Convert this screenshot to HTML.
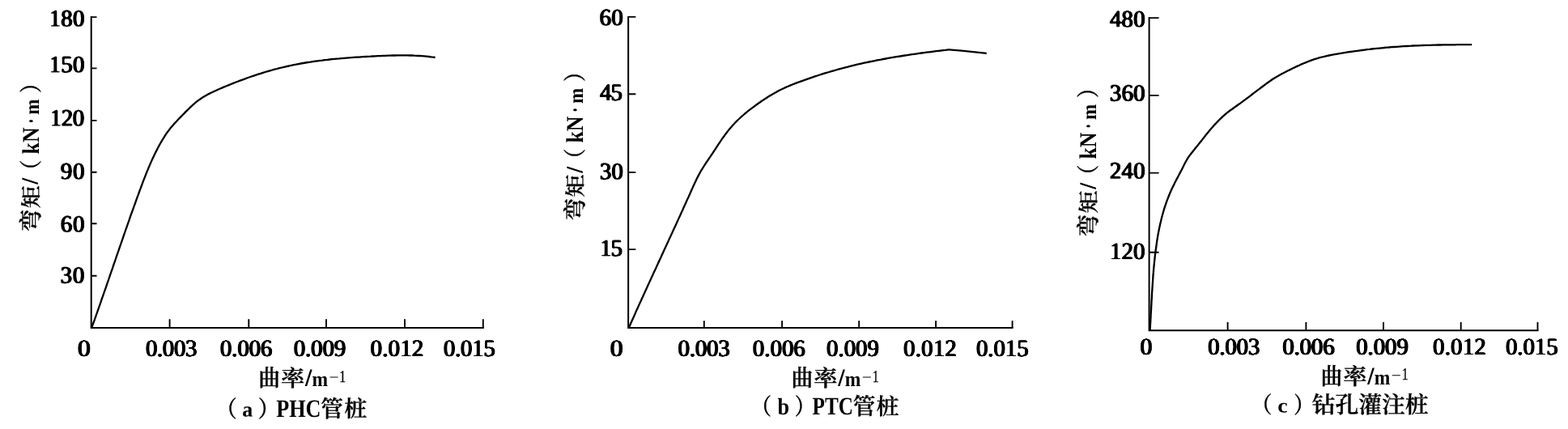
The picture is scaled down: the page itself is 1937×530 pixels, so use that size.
<!DOCTYPE html>
<html lang="zh"><head><meta charset="utf-8"><title>弯矩-曲率曲线</title>
<style>
html,body{margin:0;padding:0;background:#fff}
svg{display:block}
text{font-family:"Liberation Serif","Noto Serif CJK SC",serif;fill:#000;text-rendering:geometricPrecision}
.n{font-weight:normal;filter:url(#hd)}
.b{font-weight:bold}
.c{font-weight:600;stroke:#000;stroke-width:0.35}
.s{font-weight:normal;stroke:#000;stroke-width:0.3}
.m{font-weight:normal}
.sl{font-weight:normal;stroke:#000;stroke-width:1.2}
.ax{fill:none;stroke:#000;stroke-width:2.0;stroke-linejoin:miter}
.tk{fill:none;stroke:#000;stroke-width:1.9}
.cv{fill:none;stroke:#000;stroke-width:2.3;stroke-linejoin:round;stroke-linecap:butt}
</style></head><body>
<svg width="1937" height="530" viewBox="0 0 1937 530">
<defs><filter id="hd" x="-5%" y="-10%" width="110%" height="120%" color-interpolation-filters="sRGB"><feConvolveMatrix order="3 3" kernelMatrix="0 0.15 0 0.65 1 0.65 0 0.15 0" divisor="1" edgeMode="none" preserveAlpha="false"/><feComponentTransfer><feFuncA type="linear" slope="1.8" intercept="-0.4"/></feComponentTransfer></filter></defs>
<rect width="1937" height="530" fill="#fff"/>
<g id="chart-a">
<path class="ax" d="M112.7 20.1V405.0H597.8"/>
<path class="tk" d="M112.7 21.1h6.8M112.7 84.4h6.8M112.7 148.9h6.8M112.7 212.8h6.8M112.7 276.3h6.8M112.7 340.7h6.8M209.6 405.0v-10.8M307.3 405.0v-10.8M403 405.0v-10.8M500 405.0v-10.8M596.8 405.0v-10.8"/>
<path class="cv" d="M113.2 405.0L114.2 402.2L115.2 399.3L116.3 396.5L117.3 393.7L118.3 390.9L119.3 388.0L120.3 385.2L121.3 382.4L122.3 379.5L123.3 376.7L124.3 373.9L125.2 371.0L126.2 368.2L127.2 365.4L128.2 362.5L129.2 359.7L130.2 356.9L131.2 354.0L132.1 351.2L133.1 348.4L134.1 345.5L135.1 342.7L136.0 339.9L137.0 337.0L138.0 334.2L139.0 331.4L139.9 328.5L140.9 325.7L141.9 322.9L142.9 320.0L143.8 317.2L144.8 314.4L145.8 311.5L146.8 308.7L147.7 305.9L148.7 303.0L149.7 300.2L150.7 297.4L151.7 294.5L152.6 291.7L153.6 288.9L154.6 286.0L155.6 283.2L156.6 280.4L157.6 277.5L158.6 274.7L159.6 271.9L160.5 269.0L161.5 266.2L162.5 263.4L163.5 260.6L164.6 257.7L165.6 254.9L166.6 252.1L167.6 249.3L168.6 246.4L169.6 243.6L170.7 240.8L171.7 238.0L172.7 235.1L173.8 232.3L174.8 229.5L175.9 226.7L176.9 223.9L178.0 221.1L179.1 218.3L180.2 215.5L181.3 212.7L182.5 209.9L183.6 207.1L184.8 204.4L186.0 201.6L187.2 198.9L188.4 196.2L189.7 193.5L191.0 190.8L192.3 188.1L193.7 185.4L195.0 182.7L196.4 180.1L197.9 177.5L199.4 174.9L200.9 172.3L202.5 169.8L204.1 167.2L205.7 164.8L207.5 162.4L209.3 160.0L211.1 157.6L213.1 155.4L215.0 153.1L217.1 150.9L219.1 148.7L221.2 146.5L223.3 144.4L225.4 142.2L227.5 140.1L229.6 137.9L231.8 135.8L233.9 133.7L236.1 131.6L238.3 129.6L240.5 127.6L242.8 125.7L245.2 123.9L247.6 122.2L250.1 120.5L252.6 119.0L255.2 117.5L257.8 116.1L260.5 114.8L263.2 113.5L265.9 112.2L268.6 111.0L271.4 109.8L274.1 108.6L276.9 107.4L279.7 106.3L282.5 105.1L285.3 104.0L288.0 102.9L290.8 101.8L293.6 100.7L296.4 99.6L299.3 98.6L302.1 97.6L304.9 96.5L307.7 95.5L310.6 94.5L313.4 93.6L316.3 92.6L319.1 91.7L322.0 90.8L324.8 89.9L327.7 89.0L330.6 88.2L333.5 87.3L336.4 86.5L339.3 85.7L342.2 85.0L345.1 84.2L348.0 83.5L350.9 82.8L353.8 82.1L356.8 81.5L359.7 80.8L362.6 80.2L365.6 79.7L368.5 79.1L371.5 78.5L374.4 78.0L377.4 77.5L380.3 77.0L383.3 76.6L386.2 76.1L389.2 75.7L392.2 75.3L395.1 74.9L398.1 74.6L401.1 74.2L404.1 73.9L407.0 73.5L410.0 73.2L413.0 72.9L416.0 72.6L419.0 72.4L422.0 72.1L425.0 71.8L427.9 71.6L430.9 71.4L433.9 71.2L436.9 70.9L439.9 70.7L442.9 70.6L445.9 70.4L448.9 70.2L451.9 70.0L454.9 69.8L457.9 69.7L460.9 69.5L463.9 69.4L466.9 69.2L469.9 69.1L473.0 68.9L476.0 68.8L479.0 68.7L482.0 68.6L485.0 68.5L488.0 68.5L491.0 68.4L494.0 68.4L497.0 68.4L500.0 68.4L503.0 68.4L506.0 68.5L508.9 68.5L511.9 68.7L514.9 68.8L517.9 69.0L520.9 69.2L523.9 69.4L526.9 69.7L529.9 70.0L532.8 70.4L535.8 70.7L537.6 71.0"/>
<text class="n" font-size="29.5" letter-spacing="0.15" transform="translate(60.69 32.45) rotate(0.03) scale(0.9800 1)">180</text>
<text class="n" font-size="29.5" letter-spacing="0.15" transform="translate(60.69 89.35) rotate(0.03) scale(0.9800 1)">150</text>
<text class="n" font-size="29.5" letter-spacing="-0.41" transform="translate(61.69 155.45) rotate(0.03) scale(0.9800 1)">120</text>
<text class="n" font-size="29.5" letter-spacing="0.71" transform="translate(74.75 221.30) rotate(0.03) scale(0.9800 1)">90</text>
<text class="n" font-size="29.5" letter-spacing="0.71" transform="translate(74.75 286.45) rotate(0.03) scale(0.9800 1)">60</text>
<text class="n" font-size="29.5" letter-spacing="0.87" transform="translate(74.59 349.60) rotate(0.03) scale(0.9800 1)">30</text>
<text class="n" font-size="29.5" transform="translate(95.85 440.00) rotate(0.03) scale(1.0847 1)">0</text>
<text class="n" font-size="29.5" letter-spacing="-0.42" transform="translate(179.95 440.00) rotate(0.03) scale(0.9800 1)">0.003</text>
<text class="n" font-size="29.5" letter-spacing="-0.15" transform="translate(271.85 440.00) rotate(0.03) scale(0.9800 1)">0.006</text>
<text class="n" font-size="29.5" letter-spacing="-0.16" transform="translate(362.75 440.00) rotate(0.03) scale(0.9800 1)">0.009</text>
<text class="n" font-size="29.5" letter-spacing="0.18" transform="translate(457.55 440.00) rotate(0.03) scale(0.9800 1)">0.012</text>
<text class="n" font-size="29.5" letter-spacing="-0.29" transform="translate(547.85 440.00) rotate(0.03) scale(0.9800 1)">0.015</text>
<text transform="rotate(0.03 319.29 477.00)"><tspan class="c" x="319.29" y="477.00" font-size="28.80" textLength="26.76" lengthAdjust="spacingAndGlyphs">曲</tspan><tspan class="c" x="347.09" y="477.16" font-size="28.12" textLength="29.21" lengthAdjust="spacingAndGlyphs">率</tspan><tspan class="sl" x="377.40" y="475.95" font-size="28.65" textLength="7.41" lengthAdjust="spacingAndGlyphs">/</tspan><tspan class="b" x="385.43" y="476.60" font-size="26.01" textLength="19.58" lengthAdjust="spacingAndGlyphs">m</tspan><tspan class="m" x="406.49" y="472.90" font-size="21.00" textLength="12.15" lengthAdjust="spacingAndGlyphs">−</tspan><tspan class="s" x="419.37" y="471.50" font-size="20.84" textLength="7.87" lengthAdjust="spacingAndGlyphs">1</tspan></text>
<text transform="translate(0.00 284.50) rotate(-89.97)"><tspan class="c" x="-1.55" y="48.20" font-size="28.85" textLength="27.33" lengthAdjust="spacingAndGlyphs">弯</tspan><tspan class="c" x="27.26" y="47.51" font-size="25.50" textLength="28.08" lengthAdjust="spacingAndGlyphs">矩</tspan><tspan class="sl" x="57.40" y="46.47" font-size="27.35" textLength="7.01" lengthAdjust="spacingAndGlyphs">/</tspan><tspan class="c" x="61.60" y="47.91" font-size="27.59" textLength="25.28" lengthAdjust="spacingAndGlyphs">（</tspan><tspan class="b" x="94.10" y="47.50" font-size="29.72" textLength="32.99" lengthAdjust="spacingAndGlyphs">kN</tspan><tspan class="b" x="131.70" y="47.50" font-size="29.00" textLength="6.40" lengthAdjust="spacingAndGlyphs">·</tspan><tspan class="b" x="142.74" y="47.50" font-size="25.19" textLength="19.27" lengthAdjust="spacingAndGlyphs">m</tspan><tspan class="c" x="169.65" y="47.91" font-size="27.59" textLength="24.64" lengthAdjust="spacingAndGlyphs">）</tspan></text>
<text transform="rotate(0.03 266.79 514.89)"><tspan class="c" x="266.79" y="514.89" font-size="27.80" textLength="25.92" lengthAdjust="spacingAndGlyphs">（</tspan><tspan class="b" x="299.19" y="514.50" font-size="26.22" textLength="13.01" lengthAdjust="spacingAndGlyphs">a</tspan><tspan class="c" x="318.87" y="514.89" font-size="27.80" textLength="26.24" lengthAdjust="spacingAndGlyphs">）</tspan><tspan class="b" x="341.29" y="514.70" font-size="31.11" textLength="55.23" lengthAdjust="spacingAndGlyphs">PHC</tspan><tspan class="c" x="396.34" y="515.02" font-size="28.54" textLength="27.63" lengthAdjust="spacingAndGlyphs">管</tspan><tspan class="c" x="425.32" y="514.79" font-size="27.80" textLength="28.01" lengthAdjust="spacingAndGlyphs">桩</tspan></text>
</g>
<g id="chart-b">
<path class="ax" d="M776.15 19.9V405.0H1251.6"/>
<path class="tk" d="M776.15 20.9h9.2M776.15 116.3h9.2M776.15 212.85h9.2M776.15 308.1h9.2M869.8 405.0v-8.8M966.1 405.0v-8.8M1061.2 405.0v-8.8M1156.1 405.0v-8.8M1250.6 405.0v-8.8"/>
<path class="cv" d="M776.8 405.0L778.0 402.3L779.2 399.5L780.4 396.8L781.7 394.1L782.9 391.3L784.1 388.6L785.3 385.9L786.5 383.1L787.8 380.4L789.0 377.6L790.2 374.9L791.5 372.2L792.7 369.4L794.0 366.7L795.2 364.0L796.5 361.2L797.7 358.5L799.0 355.8L800.2 353.0L801.5 350.3L802.7 347.6L804.0 344.8L805.2 342.1L806.5 339.4L807.7 336.6L809.0 333.9L810.3 331.2L811.5 328.4L812.8 325.7L814.0 323.0L815.3 320.2L816.6 317.5L817.8 314.8L819.1 312.0L820.3 309.3L821.6 306.6L822.9 303.8L824.1 301.1L825.4 298.4L826.6 295.6L827.9 292.9L829.1 290.2L830.4 287.5L831.6 284.7L832.9 282.0L834.2 279.3L835.4 276.6L836.7 273.8L837.9 271.1L839.1 268.4L840.4 265.7L841.6 262.9L842.9 260.2L844.1 257.5L845.3 254.8L846.6 252.1L847.8 249.3L849.0 246.6L850.3 243.9L851.5 241.2L852.7 238.5L853.9 235.8L855.1 233.1L856.3 230.4L857.6 227.6L858.8 225.0L860.1 222.3L861.4 219.6L862.8 216.9L864.2 214.3L865.6 211.7L867.2 209.1L868.8 206.5L870.4 204.0L872.1 201.4L873.8 198.9L875.5 196.4L877.2 193.9L878.9 191.4L880.6 188.9L882.2 186.3L883.9 183.8L885.5 181.3L887.1 178.8L888.8 176.3L890.5 173.9L892.1 171.4L893.9 169.0L895.6 166.6L897.4 164.2L899.2 161.9L901.1 159.5L903.1 157.3L905.0 155.0L907.1 152.8L909.1 150.6L911.2 148.5L913.4 146.5L915.6 144.4L917.8 142.5L920.1 140.5L922.4 138.6L924.7 136.7L927.1 134.9L929.5 133.1L931.9 131.3L934.3 129.5L936.8 127.8L939.3 126.0L941.8 124.3L944.3 122.6L946.9 121.0L949.4 119.3L952.0 117.7L954.6 116.2L957.2 114.7L959.9 113.2L962.5 111.8L965.2 110.5L967.9 109.2L970.6 107.9L973.3 106.8L976.0 105.6L978.7 104.5L981.5 103.4L984.2 102.4L987.0 101.3L989.8 100.3L992.6 99.3L995.4 98.3L998.2 97.3L1001.1 96.3L1003.9 95.4L1006.7 94.4L1009.6 93.5L1012.5 92.5L1015.3 91.6L1018.2 90.7L1021.1 89.8L1024.0 89.0L1026.9 88.1L1029.8 87.3L1032.7 86.5L1035.6 85.6L1038.5 84.8L1041.4 84.1L1044.3 83.3L1047.2 82.6L1050.1 81.8L1053.0 81.1L1056.0 80.4L1058.9 79.7L1061.8 79.0L1064.7 78.4L1067.7 77.7L1070.6 77.1L1073.5 76.5L1076.5 75.9L1079.4 75.3L1082.3 74.7L1085.3 74.1L1088.2 73.6L1091.2 73.0L1094.1 72.5L1097.1 71.9L1100.0 71.4L1103.0 70.9L1105.9 70.4L1108.9 69.9L1111.8 69.5L1114.8 69.0L1117.8 68.5L1120.7 68.1L1123.7 67.6L1126.7 67.2L1129.6 66.8L1132.6 66.4L1135.6 65.9L1138.5 65.5L1141.5 65.1L1144.5 64.7L1147.5 64.3L1150.4 64.0L1153.4 63.6L1156.4 63.2L1159.4 62.8L1162.3 62.5L1165.3 62.1L1168.3 61.8L1171.3 61.4L1172.3 61.3L1187.8 62.6L1218.8 65.9"/>
<text class="n" font-size="29.5" letter-spacing="0.40" transform="translate(740.55 31.30) rotate(0.03) scale(0.9800 1)">60</text>
<text class="n" font-size="29.5" letter-spacing="-0.97" transform="translate(741.00 123.85) rotate(0.03) scale(0.9800 1)">45</text>
<text class="n" font-size="29.5" letter-spacing="0.05" transform="translate(740.89 221.45) rotate(0.03) scale(0.9800 1)">30</text>
<text class="n" font-size="29.5" letter-spacing="-1.07" transform="translate(741.09 316.30) rotate(0.03) scale(0.9800 1)">15</text>
<text class="n" font-size="29.5" transform="translate(753.66 440.00) rotate(0.03) scale(1.0770 1)">0</text>
<text class="n" font-size="29.5" letter-spacing="-0.19" transform="translate(837.55 440.00) rotate(0.03) scale(0.9800 1)">0.003</text>
<text class="n" font-size="29.5" letter-spacing="0.00" transform="translate(929.75 440.00) rotate(0.03) scale(0.9800 1)">0.006</text>
<text class="n" font-size="29.5" letter-spacing="-0.01" transform="translate(1020.95 440.00) rotate(0.03) scale(0.9800 1)">0.009</text>
<text class="n" font-size="29.5" letter-spacing="0.18" transform="translate(1116.05 440.00) rotate(0.03) scale(0.9800 1)">0.012</text>
<text class="n" font-size="29.5" letter-spacing="-0.09" transform="translate(1205.95 440.00) rotate(0.03) scale(0.9800 1)">0.015</text>
<text transform="rotate(0.03 977.59 477.00)"><tspan class="c" x="977.59" y="477.00" font-size="28.80" textLength="26.76" lengthAdjust="spacingAndGlyphs">曲</tspan><tspan class="c" x="1005.39" y="477.16" font-size="28.12" textLength="29.21" lengthAdjust="spacingAndGlyphs">率</tspan><tspan class="sl" x="1035.70" y="475.95" font-size="28.65" textLength="7.41" lengthAdjust="spacingAndGlyphs">/</tspan><tspan class="b" x="1043.73" y="476.60" font-size="26.01" textLength="19.58" lengthAdjust="spacingAndGlyphs">m</tspan><tspan class="m" x="1064.79" y="472.90" font-size="21.00" textLength="12.15" lengthAdjust="spacingAndGlyphs">−</tspan><tspan class="s" x="1077.67" y="471.50" font-size="20.84" textLength="7.87" lengthAdjust="spacingAndGlyphs">1</tspan></text>
<text transform="translate(672.20 270.60) rotate(-89.97)"><tspan class="c" x="-1.55" y="48.20" font-size="28.85" textLength="27.33" lengthAdjust="spacingAndGlyphs">弯</tspan><tspan class="c" x="27.26" y="47.51" font-size="25.50" textLength="28.08" lengthAdjust="spacingAndGlyphs">矩</tspan><tspan class="sl" x="57.40" y="46.47" font-size="27.35" textLength="7.01" lengthAdjust="spacingAndGlyphs">/</tspan><tspan class="c" x="61.60" y="47.91" font-size="27.59" textLength="25.28" lengthAdjust="spacingAndGlyphs">（</tspan><tspan class="b" x="94.10" y="47.50" font-size="29.72" textLength="32.99" lengthAdjust="spacingAndGlyphs">kN</tspan><tspan class="b" x="131.70" y="47.50" font-size="29.00" textLength="6.40" lengthAdjust="spacingAndGlyphs">·</tspan><tspan class="b" x="142.74" y="47.50" font-size="25.19" textLength="19.27" lengthAdjust="spacingAndGlyphs">m</tspan><tspan class="c" x="169.65" y="47.91" font-size="27.59" textLength="24.64" lengthAdjust="spacingAndGlyphs">）</tspan></text>
<text transform="rotate(0.03 928.11 511.89)"><tspan class="c" x="928.11" y="511.89" font-size="27.80" textLength="24.96" lengthAdjust="spacingAndGlyphs">（</tspan><tspan class="b" x="960.40" y="511.50" font-size="29.16" textLength="14.56" lengthAdjust="spacingAndGlyphs">b</tspan><tspan class="c" x="981.75" y="511.89" font-size="27.80" textLength="24.64" lengthAdjust="spacingAndGlyphs">）</tspan><tspan class="b" x="1003.61" y="511.70" font-size="31.11" textLength="50.35" lengthAdjust="spacingAndGlyphs">PTC</tspan><tspan class="c" x="1053.64" y="512.03" font-size="28.43" textLength="27.63" lengthAdjust="spacingAndGlyphs">管</tspan><tspan class="c" x="1082.62" y="511.80" font-size="27.70" textLength="28.01" lengthAdjust="spacingAndGlyphs">桩</tspan></text>
</g>
<g id="chart-c">
<path class="ax" d="M1419.6 21.1V408.15H1900.5"/>
<path class="tk" d="M1419.6 22.1h12M1419.6 117.85h12M1419.6 213.6h12M1419.6 311.8h12M1516.6 408.15v-10.1M1613.4 408.15v-10.1M1709 408.15v-10.1M1804.7 408.15v-10.1M1899.5 408.15v-10.1"/>
<path class="cv" d="M1420.6 408.1L1420.8 405.1L1420.9 402.2L1421.1 399.2L1421.3 396.2L1421.4 393.3L1421.6 390.3L1421.7 387.3L1421.9 384.3L1422.1 381.3L1422.2 378.3L1422.4 375.3L1422.5 372.3L1422.7 369.3L1422.9 366.3L1423.0 363.3L1423.2 360.3L1423.4 357.3L1423.6 354.3L1423.8 351.2L1424.0 348.2L1424.2 345.2L1424.4 342.2L1424.6 339.2L1424.9 336.2L1425.1 333.2L1425.4 330.2L1425.7 327.2L1426.0 324.2L1426.3 321.2L1426.6 318.2L1426.9 315.2L1427.3 312.2L1427.7 309.2L1428.1 306.3L1428.5 303.3L1428.9 300.3L1429.3 297.4L1429.8 294.4L1430.3 291.4L1430.8 288.5L1431.4 285.6L1432.0 282.6L1432.6 279.7L1433.2 276.8L1433.9 273.9L1434.6 271.0L1435.3 268.1L1436.1 265.2L1436.9 262.4L1437.7 259.5L1438.6 256.6L1439.5 253.8L1440.5 251.0L1441.5 248.1L1442.6 245.3L1443.7 242.5L1444.8 239.8L1446.0 237.0L1447.2 234.2L1448.5 231.5L1449.9 228.7L1451.2 226.0L1452.6 223.3L1454.0 220.6L1455.4 218.0L1456.8 215.3L1458.2 212.6L1459.6 210.0L1460.9 207.4L1462.2 204.8L1463.5 202.2L1464.8 199.7L1466.3 197.1L1467.8 194.6L1469.6 192.1L1471.4 189.7L1473.4 187.2L1475.4 184.8L1477.3 182.3L1479.3 180.0L1481.1 177.6L1483.0 175.2L1484.9 172.9L1486.7 170.6L1488.5 168.3L1490.3 166.0L1492.2 163.7L1494.0 161.5L1495.9 159.2L1497.9 157.0L1499.8 154.8L1501.9 152.6L1503.9 150.4L1506.1 148.2L1508.3 146.1L1510.6 143.9L1512.9 141.9L1515.2 139.9L1517.6 138.0L1520.0 136.2L1522.5 134.5L1524.9 132.7L1527.3 131.0L1529.7 129.3L1532.1 127.6L1534.5 125.8L1536.8 124.1L1539.2 122.3L1541.6 120.6L1543.9 118.8L1546.3 117.0L1548.6 115.2L1551.0 113.4L1553.3 111.6L1555.7 109.8L1558.1 108.0L1560.6 106.2L1563.0 104.4L1565.5 102.5L1568.0 100.8L1570.5 99.0L1573.0 97.3L1575.6 95.7L1578.2 94.2L1580.8 92.7L1583.4 91.3L1586.0 89.9L1588.7 88.5L1591.3 87.2L1594.0 85.9L1596.7 84.5L1599.5 83.2L1602.2 81.9L1605.0 80.7L1607.7 79.4L1610.5 78.2L1613.3 77.1L1616.1 76.0L1618.9 74.9L1621.7 73.9L1624.6 72.9L1627.4 72.1L1630.3 71.2L1633.1 70.5L1636.0 69.8L1638.9 69.1L1641.8 68.5L1644.7 67.9L1647.6 67.3L1650.5 66.8L1653.4 66.3L1656.3 65.8L1659.2 65.4L1662.2 64.9L1665.1 64.4L1668.1 64.0L1671.0 63.6L1674.0 63.2L1676.9 62.8L1679.9 62.4L1682.9 62.0L1685.9 61.6L1688.8 61.2L1691.8 60.9L1694.8 60.5L1697.8 60.2L1700.8 59.9L1703.8 59.6L1706.8 59.3L1709.8 59.0L1712.8 58.7L1715.8 58.5L1718.9 58.2L1721.9 58.0L1724.9 57.8L1727.9 57.6L1730.9 57.4L1733.9 57.2L1737.0 57.0L1740.0 56.8L1743.0 56.7L1746.0 56.5L1749.0 56.4L1752.1 56.3L1755.1 56.1L1758.1 56.0L1761.1 55.9L1764.1 55.8L1767.1 55.8L1770.2 55.7L1773.2 55.6L1776.2 55.5L1779.2 55.5L1782.2 55.4L1785.2 55.4L1788.2 55.3L1791.2 55.3L1794.2 55.3L1797.1 55.3L1800.1 55.2L1803.1 55.2L1806.1 55.2L1809.0 55.2L1812.0 55.2L1815.0 55.2L1817.9 55.2L1818.2 55.2"/>
<text class="n" font-size="29.5" letter-spacing="0.15" transform="translate(1370.90 33.25) rotate(0.03) scale(0.9800 1)">480</text>
<text class="n" font-size="29.5" letter-spacing="0.20" transform="translate(1370.79 124.60) rotate(0.03) scale(0.9800 1)">360</text>
<text class="n" font-size="29.5" letter-spacing="0.17" transform="translate(1370.85 220.55) rotate(0.03) scale(0.9800 1)">240</text>
<text class="n" font-size="29.5" letter-spacing="0.10" transform="translate(1370.99 320.15) rotate(0.03) scale(0.9800 1)">120</text>
<text class="n" font-size="29.5" transform="translate(1408.52 438.00) rotate(0.03) scale(1.0073 1)">0</text>
<text class="n" font-size="29.5" letter-spacing="-0.24" transform="translate(1492.15 438.00) rotate(0.03) scale(0.9800 1)">0.003</text>
<text class="n" font-size="29.5" letter-spacing="-0.18" transform="translate(1584.35 438.00) rotate(0.03) scale(0.9800 1)">0.006</text>
<text class="n" font-size="29.5" letter-spacing="-0.09" transform="translate(1675.25 438.00) rotate(0.03) scale(0.9800 1)">0.009</text>
<text class="n" font-size="29.5" letter-spacing="0.18" transform="translate(1770.05 438.00) rotate(0.03) scale(0.9800 1)">0.012</text>
<text class="n" font-size="29.5" letter-spacing="-0.09" transform="translate(1860.05 438.00) rotate(0.03) scale(0.9800 1)">0.015</text>
<text transform="rotate(0.03 1631.59 474.90)"><tspan class="c" x="1631.59" y="474.90" font-size="28.80" textLength="26.76" lengthAdjust="spacingAndGlyphs">曲</tspan><tspan class="c" x="1659.39" y="475.06" font-size="28.12" textLength="29.21" lengthAdjust="spacingAndGlyphs">率</tspan><tspan class="sl" x="1689.70" y="473.85" font-size="28.65" textLength="7.41" lengthAdjust="spacingAndGlyphs">/</tspan><tspan class="b" x="1697.73" y="474.50" font-size="26.01" textLength="19.58" lengthAdjust="spacingAndGlyphs">m</tspan><tspan class="m" x="1718.79" y="470.80" font-size="21.00" textLength="12.15" lengthAdjust="spacingAndGlyphs">−</tspan><tspan class="s" x="1731.67" y="469.40" font-size="20.84" textLength="7.87" lengthAdjust="spacingAndGlyphs">1</tspan></text>
<text transform="translate(1306.40 290.60) rotate(-89.97)"><tspan class="c" x="-1.55" y="48.20" font-size="28.85" textLength="27.33" lengthAdjust="spacingAndGlyphs">弯</tspan><tspan class="c" x="27.26" y="47.51" font-size="25.50" textLength="28.08" lengthAdjust="spacingAndGlyphs">矩</tspan><tspan class="sl" x="57.40" y="46.47" font-size="27.35" textLength="7.01" lengthAdjust="spacingAndGlyphs">/</tspan><tspan class="c" x="61.60" y="47.91" font-size="27.59" textLength="25.28" lengthAdjust="spacingAndGlyphs">（</tspan><tspan class="b" x="94.10" y="47.50" font-size="29.72" textLength="32.99" lengthAdjust="spacingAndGlyphs">kN</tspan><tspan class="b" x="131.70" y="47.50" font-size="29.00" textLength="6.40" lengthAdjust="spacingAndGlyphs">·</tspan><tspan class="b" x="142.74" y="47.50" font-size="25.19" textLength="19.27" lengthAdjust="spacingAndGlyphs">m</tspan><tspan class="c" x="169.65" y="47.91" font-size="27.59" textLength="24.64" lengthAdjust="spacingAndGlyphs">）</tspan></text>
<text transform="rotate(0.03 1545.60 509.71)"><tspan class="c" x="1545.60" y="509.71" font-size="27.59" textLength="25.92" lengthAdjust="spacingAndGlyphs">（</tspan><tspan class="b" x="1578.33" y="509.40" font-size="24.98" textLength="12.39" lengthAdjust="spacingAndGlyphs">c</tspan><tspan class="c" x="1598.25" y="509.71" font-size="27.59" textLength="24.64" lengthAdjust="spacingAndGlyphs">）</tspan><tspan class="c" x="1620.65" y="510.03" font-size="28.43" textLength="143.90" lengthAdjust="spacingAndGlyphs">钻孔灌注桩</tspan></text>
</g>
</svg>
</body></html>
